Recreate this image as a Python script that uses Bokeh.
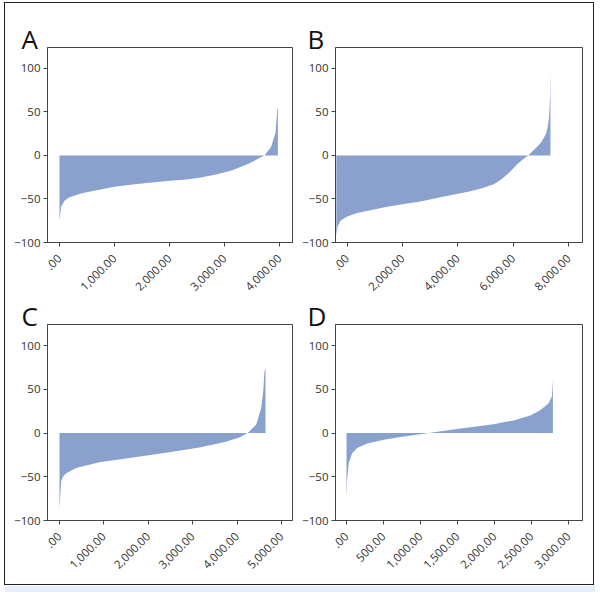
import math
from bokeh.plotting import figure
from bokeh.layouts import gridplot, column
from bokeh.models import Range1d, FixedTicker, CustomJSTickFormatter, Div
from bokeh.embed import file_html
from bokeh.resources import INLINE

# ---------------- data ----------------
A_x = [0, 30, 90, 180, 424, 727, 1000, 1333, 1636, 2000, 2300, 2545, 2848, 3145, 3455, 3636, 3727, 3848, 3927, 3958, 3970]
A_y = [-75, -59, -52, -48, -43, -39.5, -36, -33.5, -31.5, -29, -27.5, -25.5, -22, -17, -9, -3, 0, 10, 26, 52, 55]

B_x = [-390, -337, -240, 0, 361, 842, 1444, 2000, 2647, 3370, 4451, 4900, 5292, 5550, 5776, 5960, 6137, 6350, 6534, 6700, 6859, 7000, 7097, 7180, 7242, 7280, 7303, 7325, 7339]
B_y = [-92, -81, -75, -70, -66, -63, -59, -56, -53, -48, -41, -37.5, -33, -28, -22, -16, -10, -4.5, 0, 5, 10, 15, 20, 25, 33, 42, 52, 70, 95]

C_x = [0, 20, 38, 80, 150, 375, 900, 1650, 2400, 3150, 3750, 4050, 4240, 4430, 4541, 4590, 4616, 4640]
C_y = [-88, -70, -55, -50, -46, -40, -33.5, -28, -22.5, -16.5, -10, -5, 0, 9.5, 28, 48, 70, 74]

D_x = [0, 9, 31, 76, 144, 279, 504, 729, 999, 1111, 1493, 1988, 2258, 2483, 2618, 2731, 2776, 2789]
D_y = [-74, -53, -34, -23, -17, -12, -7.6, -4.6, -1.5, 0, 4.6, 10, 14.4, 20, 26, 34, 42, 61]

Y_TICKS = [-100, -50, 0, 50, 100]
A_TICKS = [0, 1000, 2000, 3000, 4000]
B_TICKS = [0, 2000, 4000, 6000, 8000]
C_TICKS = [0, 1000, 2000, 3000, 4000, 5000]
D_TICKS = [0, 500, 1000, 1500, 2000, 2500, 3000]
LETTERS = ["A", "B", "C", "D"]

FONT = "Open Sans"
FILL = "#8aa1ce"
TXT = "#333333"

fmt_code = """
if (tick == 0) { return '.00'; }
return tick.toLocaleString('en-US', {minimumFractionDigits: 2, maximumFractionDigits: 2});
"""


def panel(letter, xs, ys, xr, xticks, fw, fh, bl, br, bt, bb, lx_px, l_stand):
    p = figure(frame_width=fw, frame_height=fh,
               x_range=Range1d(*xr), y_range=Range1d(-100, 124),
               output_backend="svg", toolbar_location=None,
               min_border_left=bl, min_border_right=br,
               min_border_top=bt, min_border_bottom=bb)
    p.xgrid.visible = False
    p.ygrid.visible = False
    p.outline_line_color = "#444444"
    p.outline_line_width = 1
    p.background_fill_color = "white"
    p.border_fill_color = "white"

    p.varea(x=xs, y1=[0] * len(xs), y2=ys, fill_color=FILL, fill_alpha=1.0)

    for ax in (p.xaxis[0], p.yaxis[0]):
        ax.axis_line_color = "#444444"
        ax.major_tick_line_color = "#444444"
        ax.major_tick_out = 4
        ax.major_tick_in = 0
        ax.minor_tick_line_color = None
        ax.major_label_text_font = FONT
        ax.major_label_text_font_size = "11.5px"
        ax.major_label_text_color = TXT
    p.yaxis[0].ticker = FixedTicker(ticks=Y_TICKS)
    p.yaxis[0].major_label_standoff = 3
    p.xaxis[0].ticker = FixedTicker(ticks=xticks)
    p.xaxis[0].formatter = CustomJSTickFormatter(code=fmt_code)
    p.xaxis[0].major_label_orientation = math.pi / 4
    p.xaxis[0].major_label_standoff = 10

    # panel letter as the figure title, pulled left of the frame
    p.title.text = letter
    p.title.align = "left"
    p.title.offset = -lx_px
    p.title.standoff = l_stand
    p.title.text_font = FONT
    p.title.text_font_size = "26px"
    p.title.text_font_style = "normal"
    p.title.text_color = "#111111"
    return p


pA = panel(LETTERS[0], A_x, A_y, (-218, 4236), A_TICKS, 245, 195, 42, 1, 44, 53, 26, -18)
pB = panel(LETTERS[1], B_x, B_y, (-420, 8496), B_TICKS, 247, 195, 42, 11, 44, 53, 28, -18)
pC = panel(LETTERS[2], C_x, C_y, (-270, 5248), C_TICKS, 245, 196, 42, 1, 27, 64, 26, -18)
pD = panel(LETTERS[3], D_x, D_y, (-149, 3189), D_TICKS, 247, 196, 42, 11, 27, 64, 28, -18)

grid = gridplot([[pA, pB], [pC, pD]], toolbar_location=None)
grid.styles = {"border": "1.5px solid #222222", "margin-left": "4px", "margin-top": "2px"}

strip = Div(text="", width=590, height=6,
            styles={"background-color": "#e6eefa", "margin-left": "5px", "margin-top": "1px"})

layout = column(grid, strip)

open("out.html", "w").write(file_html(layout, INLINE))
